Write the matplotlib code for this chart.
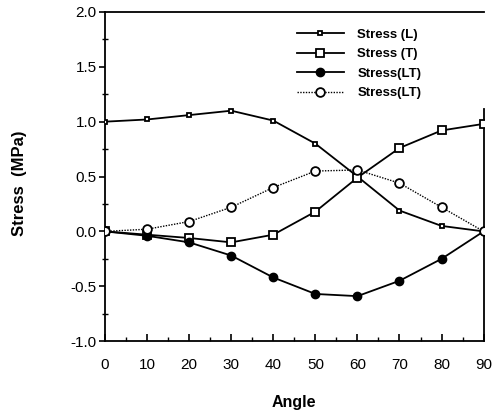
import matplotlib
matplotlib.use("Agg")
import matplotlib.pyplot as plt
from matplotlib.ticker import MultipleLocator

angle = [0, 10, 20, 30, 40, 50, 60, 70, 80, 90]
stress_L = [1.00, 1.02, 1.06, 1.10, 1.01, 0.80, 0.50, 0.19, 0.05, 0.00]
stress_T = [0.00, -0.03, -0.06, -0.10, -0.03, 0.18, 0.49, 0.76, 0.92, 0.98]
stress_LT_filled = [0.00, -0.04, -0.10, -0.22, -0.42, -0.57, -0.59, -0.45, -0.25, 0.00]
stress_LT_open = [0.00, 0.02, 0.09, 0.22, 0.40, 0.55, 0.56, 0.44, 0.22, 0.00]
labels = ["Stress (L)", "Stress (T)", "Stress(LT)", "Stress(LT)"]

plt.rcParams['font.family'] = ['Liberation Sans', 'DejaVu Sans']

fig = plt.figure(figsize=(4.93, 4.12), dpi=100)
ax = fig.add_axes([0.213, 0.172, 0.768, 0.799])

ax.plot(angle, stress_L, color='black', lw=1.3, marker='s', ms=3.5, mfc='white',
        mec='black', mew=1.3, label=labels[0], zorder=3)
ax.plot(angle, stress_T, color='black', lw=1.3, marker='s', ms=6.3, mfc='white',
        mec='black', mew=1.3, label=labels[1], zorder=3)
ax.plot(angle, stress_LT_filled, color='black', lw=1.3, marker='o', ms=6, mfc='black',
        mec='black', label=labels[2], zorder=3)
ax.plot(angle, stress_LT_open, color='black', lw=1.0, ls=(0, (1, 1)), marker='o', ms=6.3,
        mfc='white', mec='black', mew=1.3, label=labels[3], zorder=4)

ax.set_xlim(0, 90)
ax.set_ylim(-1.0, 2.0)
ax.xaxis.set_major_locator(MultipleLocator(10))
ax.xaxis.set_minor_locator(MultipleLocator(5))
ax.yaxis.set_major_locator(MultipleLocator(0.5))
ax.yaxis.set_minor_locator(MultipleLocator(0.25))
ax.set_yticks([-1.0, -0.5, 0.0, 0.5, 1.0, 1.5, 2.0])
ax.set_yticklabels(["-1.0", "-0.5", "0.0", "0.5", "1.0", "1.5", "2.0"])

ax.tick_params(axis='x', which='major', direction='in', length=5, width=1.2, labelsize=11, pad=12)
ax.tick_params(axis='x', which='minor', direction='in', length=3, width=1.0)
ax.tick_params(axis='y', which='major', direction='out', length=4, width=1.2, labelsize=11, pad=2)
ax.tick_params(axis='y', which='minor', direction='inout', length=4, width=1.0)

for s in ax.spines.values():
    s.set_linewidth(1.3)
ax.spines['right'].set_bounds(-1.0, 1.12)

ax.set_xlabel("Angle", fontsize=11.5, fontweight='bold')
ax.set_ylabel("Stress  (MPa)", fontsize=12, fontweight='bold')
ax.xaxis.set_label_coords(0.5, -0.164)
ax.yaxis.set_label_coords(-0.207, 0.48)

leg = ax.legend(loc='upper left', bbox_to_anchor=(0.475, 0.985), frameon=False,
                handlelength=3.6, labelspacing=0.55, handletextpad=1.0,
                prop={'weight': 'bold', 'size': 9.5})

fig.savefig("out.png", dpi=100)
